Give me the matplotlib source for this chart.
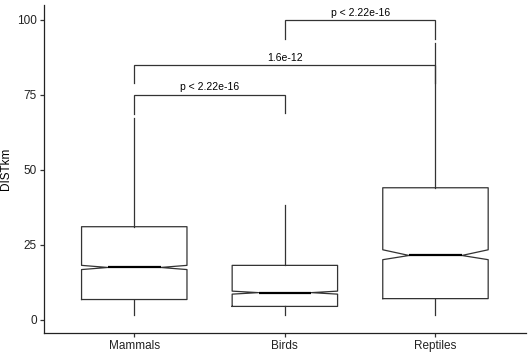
import matplotlib
matplotlib.use("Agg")
import matplotlib.pyplot as plt

plt.rcParams['font.family'] = ['Liberation Sans', 'DejaVu Sans']

categories = ["Mammals", "Birds", "Reptiles"]
q1 = [6.7, 4.4, 7.0]
med = [17.4, 9.0, 21.4]
q3 = [31.0, 18.1, 44.0]
whislo = [1.5, 1.5, 1.5]
whishi = [67.3, 38.3, 92.3]
cilo = [16.7, 8.5, 20.0]
cihi = [18.1, 9.5, 23.3]

# comparisons: (group_a, group_b, y level, tip_a, tip_b, label)
comparisons = [
    (0, 1, 75.0, 68.7, 69.0, "p < 2.22e-16"),
    (0, 2, 85.0, 79.0, 79.0, "1.6e-12"),
    (1, 2, 100.0, 93.7, 93.7, "p < 2.22e-16"),
]
yticks = [0, 25, 50, 75, 100]

fig = plt.figure(figsize=(5.29, 3.57), dpi=100)
ax = fig.add_axes([0.083, 0.067, 0.911, 0.919])

stats = []
for i, c in enumerate(categories):
    stats.append(dict(label=c, q1=q1[i], med=med[i], q3=q3[i],
                      whislo=whislo[i], whishi=whishi[i],
                      cilo=cilo[i], cihi=cihi[i], fliers=[]))

pos = [1, 2, 3]
lc = "#333333"
ax.bxp(stats, positions=pos, widths=0.7, shownotches=True, showcaps=False,
       showfliers=False, patch_artist=False,
       boxprops=dict(color=lc, linewidth=0.9),
       whiskerprops=dict(color=lc, linewidth=0.9),
       medianprops=dict(color="black", linewidth=1.6))

for a, b, y, ta, tb, lab in comparisons:
    xa, xb = pos[a], pos[b]
    ax.plot([xa, xa, xb, xb], [ta, y, y, tb], color=lc, linewidth=0.9,
            solid_joinstyle='miter')
    ax.text((xa + xb) / 2, y + 0.8, lab, ha='center', va='bottom',
            fontsize=7.5, color='black')

ax.set_xlim(0.4, 3.6)
ax.set_ylim(-4.5, 105)
ax.set_yticks(yticks)
ax.set_xticks(pos)
ax.set_xticklabels(categories)
ax.set_ylabel("DISTkm", fontsize=8.5, color='black')
ax.tick_params(axis='both', labelsize=8.5, labelcolor='#222222', color='#333333',
               length=3, width=0.9, pad=2)
for s in ['top', 'right']:
    ax.spines[s].set_visible(False)
for s in ['left', 'bottom']:
    ax.spines[s].set_color('#222222')
    ax.spines[s].set_linewidth(0.9)

fig.savefig("out.png", dpi=100)
